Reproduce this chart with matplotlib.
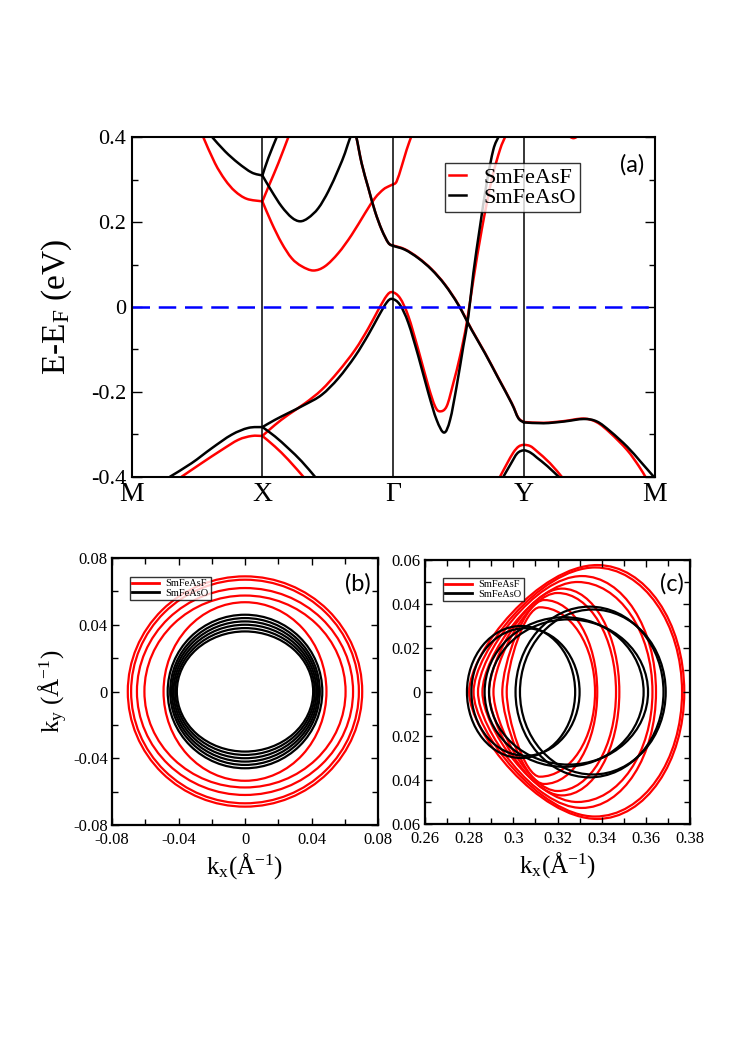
import numpy as np
import matplotlib
matplotlib.use("Agg")
import matplotlib.pyplot as plt
from matplotlib.patches import Ellipse, PathPatch
from matplotlib.path import Path
from matplotlib.ticker import MultipleLocator
from matplotlib.lines import Line2D

plt.rcParams['font.family'] = ['Liberation Serif', 'DejaVu Serif']
plt.rcParams['mathtext.fontset'] = 'custom'
plt.rcParams['mathtext.rm'] = 'Liberation Serif'
plt.rcParams['mathtext.it'] = 'Liberation Serif:italic'
plt.rcParams['axes.unicode_minus'] = False

# ---------------- panel (a) data: band structure ----------------
kpath_pos = [0, 1, 2, 3, 4]
kpath_labels = ['M', 'X', 'Γ', 'Y', 'M']

# SmFeAsF (red), split at kinks
kF1a = [0.548, 0.637, 0.714, 0.79, 0.88, 1.0]
EF1a = [0.40, 0.339, 0.300, 0.273, 0.255, 0.249]
kF1b = [1.0, 1.058, 1.122, 1.198]
EF1b = [0.249, 0.292, 0.339, 0.40]
kF2a = [1.0, 1.071, 1.147, 1.224, 1.301, 1.39, 1.479, 1.581, 1.683, 1.785, 1.862, 1.925, 1.97, 2.0]
EF2a = [0.249, 0.198, 0.151, 0.115, 0.096, 0.086, 0.096, 0.127, 0.170, 0.221, 0.257, 0.277, 0.285, 0.289]
kF2b = [2.0, 2.027, 2.066, 2.104, 2.137]
EF2b = [0.289, 0.296, 0.332, 0.371, 0.40]
kF3a = [0.382, 0.535, 0.688, 0.816, 0.918, 1.0]
EF3a = [-0.40, -0.368, -0.337, -0.313, -0.304, -0.304]
kF3b = [1.0, 1.096, 1.198, 1.326, 1.454, 1.581, 1.709, 1.811, 1.888, 1.952, 1.994,
        2.053, 2.117, 2.193, 2.27, 2.321, 2.359, 2.41, 2.461, 2.512, 2.563, 2.614, 2.678, 2.754, 2.818, 2.856]
EF3b = [-0.304, -0.278, -0.254, -0.227, -0.195, -0.152, -0.101, -0.05, -0.006, 0.027, 0.035,
        0.021, -0.022, -0.101, -0.187, -0.234, -0.246, -0.234, -0.179, -0.116, -0.038, 0.064, 0.182, 0.300, 0.371, 0.40]
kF4 = [1.0, 1.096, 1.198, 1.313]
EF4 = [-0.304, -0.329, -0.36, -0.40]
kF5a = [1.72, 1.759, 1.811, 1.862, 1.913, 1.964, 2.0]
EF5a = [0.40, 0.339, 0.280, 0.225, 0.182, 0.151, 0.145]
kF5b = [2.0, 2.091, 2.193, 2.295, 2.397, 2.499, 2.601, 2.703, 2.805, 2.907, 2.958, 3.0]
EF5b = [0.145, 0.136, 0.116, 0.089, 0.053, 0.006, -0.053, -0.108, -0.167, -0.226, -0.261, -0.271]
kF5c = [3.0, 3.152, 3.305, 3.458, 3.56, 3.662, 3.79, 3.88, 3.93]
EF5c = [-0.271, -0.273, -0.269, -0.263, -0.272, -0.297, -0.337, -0.375, -0.40]
kF6 = [2.818, 2.87, 2.92, 2.96, 3.0, 3.05, 3.10, 3.20, 3.29]
EF6 = [-0.40, -0.37, -0.343, -0.329, -0.325, -0.328, -0.34, -0.368, -0.40]
kF7 = [3.30, 3.38, 3.46]
EF7 = [0.415, 0.398, 0.415]

# SmFeAsO (black), split at kinks
kO1a = [0.617, 0.714, 0.816, 0.918, 1.0]
EO1a = [0.40, 0.367, 0.339, 0.317, 0.31]
kO1b = [1.0, 1.045, 1.109]
EO1b = [0.31, 0.351, 0.40]
kO2a = [1.0, 1.071, 1.147, 1.224, 1.288, 1.351, 1.428, 1.505, 1.581, 1.632, 1.670, 1.696]
EO2a = [0.31, 0.273, 0.237, 0.211, 0.202, 0.21, 0.233, 0.273, 0.324, 0.363, 0.398, 0.408]
kO2b = [1.696, 1.72, 1.759, 1.811, 1.862, 1.913, 1.964, 2.0]
EO2b = [0.408, 0.398, 0.339, 0.280, 0.225, 0.182, 0.151, 0.144]
kO2c = [2.0, 2.091, 2.193, 2.295, 2.397, 2.499, 2.601, 2.703, 2.805, 2.907, 2.958, 3.0]
EO2c = [0.144, 0.135, 0.115, 0.088, 0.052, 0.005, -0.054, -0.109, -0.168, -0.227, -0.262, -0.272]
kO2d = [3.0, 3.152, 3.305, 3.458, 3.56, 3.662, 3.79, 3.892, 3.994]
EO2d = [-0.272, -0.274, -0.270, -0.264, -0.270, -0.293, -0.329, -0.364, -0.40]
kO3a = [0.293, 0.459, 0.612, 0.765, 0.892, 1.0]
EO3a = [-0.40, -0.368, -0.333, -0.301, -0.285, -0.283]
kO3b = [1.0, 1.096, 1.198, 1.326, 1.454, 1.581, 1.709, 1.811, 1.888, 1.952, 1.994,
        2.053, 2.117, 2.193, 2.27, 2.333, 2.39, 2.436, 2.486, 2.537, 2.576, 2.614, 2.665, 2.716, 2.767, 2.805]
EO3b = [-0.283, -0.266, -0.25, -0.23, -0.207, -0.168, -0.116, -0.065, -0.022, 0.011, 0.019,
        0.005, -0.038, -0.116, -0.203, -0.266, -0.296, -0.266, -0.187, -0.093, -0.022, 0.08, 0.19, 0.292, 0.371, 0.40]
kO4 = [1.0, 1.096, 1.198, 1.301, 1.402]
EO4 = [-0.283, -0.305, -0.333, -0.364, -0.40]
kO5 = [2.844, 2.9, 2.95, 3.0, 3.05, 3.10, 3.18, 3.266]
EO5 = [-0.40, -0.37, -0.345, -0.338, -0.343, -0.355, -0.375, -0.40]

# ---------------- panel (b) data: Fermi surface near Gamma ----------------
b_red_rx = [0.0705, 0.0685, 0.065, 0.0605, 0.049]
b_red_ry = [0.069, 0.067, 0.062, 0.0575, 0.0535]
b_blk_rx = [0.0465, 0.045, 0.044, 0.043, 0.042, 0.041]
b_blk_ry = [0.046, 0.044, 0.042, 0.040, 0.038, 0.036]

# ---------------- panel (c) data: shifted pockets ----------------
c_red_xl = [0.280, 0.282, 0.284, 0.286, 0.289, 0.291, 0.295, 0.297]
c_red_xt = [0.338, 0.337, 0.331, 0.329, 0.322, 0.320, 0.314, 0.312]
c_red_yt = [0.0577, 0.0566, 0.0527, 0.050, 0.047, 0.045, 0.0418, 0.0385]
c_red_xr = [0.3774, 0.3764, 0.3646, 0.363, 0.348, 0.3465, 0.338, 0.337]
c_blk_xl = [0.279, 0.281, 0.287, 0.289, 0.301, 0.303]
c_blk_xr = [0.328, 0.330, 0.359, 0.361, 0.368, 0.369]
c_blk_ry = [0.030, 0.029, 0.034, 0.033, 0.0388, 0.0375]

W, H = 747, 1058
fig = plt.figure(figsize=(W / 100, H / 100), dpi=100)


def ax_px(l, t, r, b):
    return fig.add_axes([l / W, 1 - b / H, (r - l) / W, (b - t) / H])


def smooth_path(xs, ys):
    """Catmull-Rom curve through the read points, handed to matplotlib as Bezier segments."""
    pts = np.column_stack([xs, ys]).astype(float)
    n = len(pts)
    verts = [pts[0]]
    codes = [Path.MOVETO]
    for i in range(n - 1):
        p0 = pts[i - 1] if i > 0 else pts[i]
        p1 = pts[i]
        p2 = pts[i + 1]
        p3 = pts[i + 2] if i + 2 < n else pts[i + 1]
        verts += [p1 + (p2 - p0) / 6.0, p2 - (p3 - p1) / 6.0, p2]
        codes += [Path.CURVE4] * 3
    return Path(verts, codes)


# ---------------- (a) ----------------
axA = ax_px(131.7, 137.3, 654.5, 476.7)
lw_band = 1.8
red_bands = [(kF1a, EF1a), (kF1b, EF1b), (kF2a, EF2a), (kF2b, EF2b), (kF3a, EF3a), (kF3b, EF3b),
             (kF4, EF4), (kF5a, EF5a), (kF5b, EF5b), (kF5c, EF5c), (kF6, EF6), (kF7, EF7)]
blk_bands = [(kO1a, EO1a), (kO1b, EO1b), (kO2a, EO2a), (kO2b, EO2b), (kO2c, EO2c), (kO2d, EO2d),
             (kO3a, EO3a), (kO3b, EO3b), (kO4, EO4), (kO5, EO5)]
for kk, ee in red_bands:
    axA.add_patch(PathPatch(smooth_path(kk, ee), fill=False, edgecolor='#ff0000', lw=lw_band,
                            capstyle='round', joinstyle='round'))
for kk, ee in blk_bands:
    axA.add_patch(PathPatch(smooth_path(kk, ee), fill=False, edgecolor='black', lw=lw_band,
                            capstyle='round', joinstyle='round'))
for kp in kpath_pos[1:-1]:
    axA.axvline(kp, color='black', lw=1.1)
axA.axhline(0, color='#0000ff', lw=1.8, dashes=(7, 3.5))
axA.set_xlim(0, 4)
axA.set_ylim(-0.4, 0.4)
axA.set_xticks(kpath_pos)
axA.set_xticklabels(kpath_labels, fontsize=20)
axA.tick_params(axis='x', length=0, pad=4)
axA.set_yticks([-0.4, -0.2, 0, 0.2, 0.4])
axA.set_yticklabels(['-0.4', '-0.2', '0', '0.2', '0.4'], fontsize=16)
axA.yaxis.set_minor_locator(MultipleLocator(0.1))
axA.tick_params(axis='y', which='both', direction='in', left=True, right=True, pad=4)
axA.tick_params(axis='y', which='major', length=7, width=1.0)
axA.tick_params(axis='y', which='minor', length=4, width=1.0)
for s in axA.spines.values():
    s.set_linewidth(1.5)
axA.set_ylabel('E-E$_\\mathregular{F}$ (eV)', fontsize=24, labelpad=12)
legA = axA.legend([Line2D([], [], color='#ff0000', lw=1.8), Line2D([], [], color='black', lw=1.8)],
                  ['SmFeAsF', 'SmFeAsO'], loc='upper left', bbox_to_anchor=(0.599, 0.924),
                  borderaxespad=0, fontsize=16, frameon=True, fancybox=False, edgecolor='black',
                  handlelength=0.75, handletextpad=0.8, borderpad=0.18, labelspacing=0.0)
legA.get_frame().set_linewidth(1.0)
axA.text(0.958, 0.92, '(a)', transform=axA.transAxes, fontsize=17, family='Lato',
         ha='center', va='center')


def style_small(ax):
    ax.tick_params(which='both', direction='in', top=True, right=True, labelsize=12, width=1.0)
    ax.tick_params(which='major', length=5)
    ax.tick_params(which='minor', length=4)
    for s in ax.spines.values():
        s.set_linewidth(1.6)


# ---------------- (b) ----------------
axB = ax_px(112, 558, 378, 825)
for rx, ry in zip(b_red_rx, b_red_ry):
    axB.add_patch(Ellipse((0, 0), 2 * rx, 2 * ry, fill=False, edgecolor='#ff0000', lw=1.6))
for rx, ry in zip(b_blk_rx, b_blk_ry):
    axB.add_patch(Ellipse((0, 0), 2 * rx, 2 * ry, fill=False, edgecolor='black', lw=1.6))
axB.set_xlim(-0.08, 0.08)
axB.set_ylim(-0.08, 0.08)
b_ticks = [-0.08, -0.04, 0, 0.04, 0.08]
b_ticklabels = ['-0.08', '-0.04', '0', '0.04', '0.08']
axB.set_xticks(b_ticks)
axB.set_xticklabels(b_ticklabels)
axB.set_yticks(b_ticks)
axB.set_yticklabels(b_ticklabels)
axB.xaxis.set_minor_locator(MultipleLocator(0.02))
axB.yaxis.set_minor_locator(MultipleLocator(0.02))
style_small(axB)
axB.tick_params(axis='x', pad=5)
axB.tick_params(axis='y', pad=3)
axB.set_xlabel('k$_\\mathregular{x}$(Å$^{\\mathregular{-1}}$)', fontsize=18, labelpad=2)
axB.set_ylabel('k$_\\mathregular{y}$ (Å$^{\\mathregular{-1}}$)', fontsize=18, labelpad=2)
legB = axB.legend([Line2D([], [], color='#ff0000', lw=2), Line2D([], [], color='black', lw=2)],
                  ['SmFeAsF', 'SmFeAsO'], loc='upper left', bbox_to_anchor=(0.068, 0.929),
                  borderaxespad=0, fontsize=7.5, frameon=True, fancybox=False, edgecolor='black',
                  handlelength=2.6, handletextpad=0.6, borderpad=0.2, labelspacing=0.05)
legB.get_frame().set_linewidth(1.0)
axB.text(0.925, 0.905, '(b)', transform=axB.transAxes, fontsize=17, family='Lato', ha='center', va='center')

# ---------------- (c) ----------------
axC = ax_px(425, 560, 690, 824)


def egg_path(xl, xt, yt, xr, a=0.32, b=0.45, kap=0.5523):
    dl = xt - xl
    dr = xr - xt
    verts = [(xl, 0), (xl, a * yt), (xt - b * dl, yt), (xt, yt),
             (xt + kap * dr, yt), (xr, kap * yt), (xr, 0),
             (xr, -kap * yt), (xt + kap * dr, -yt), (xt, -yt),
             (xt - b * dl, -yt), (xl, -a * yt), (xl, 0), (xl, 0)]
    codes = [Path.MOVETO] + [Path.CURVE4] * 12 + [Path.CLOSEPOLY]
    return Path(verts, codes)


for xl, xt, yt, xr in zip(c_red_xl, c_red_xt, c_red_yt, c_red_xr):
    axC.add_patch(PathPatch(egg_path(xl, xt, yt, xr), fill=False, edgecolor='#ff0000', lw=1.6))
for xl, xr, ry in zip(c_blk_xl, c_blk_xr, c_blk_ry):
    axC.add_patch(Ellipse(((xl + xr) / 2, 0), xr - xl, 2 * ry, fill=False, edgecolor='black', lw=1.6))
axC.set_xlim(0.26, 0.38)
axC.set_ylim(-0.06, 0.06)
c_xticks = [0.26, 0.28, 0.30, 0.32, 0.34, 0.36, 0.38]
c_xticklabels = ['0.26', '0.28', '0.3', '0.32', '0.34', '0.36', '0.38']
c_yticks = [-0.06, -0.04, -0.02, 0, 0.02, 0.04, 0.06]
c_yticklabels = ['0.06', '0.04', '0.02', '0', '0.02', '0.04', '0.06']
axC.set_xticks(c_xticks)
axC.set_xticklabels(c_xticklabels)
axC.set_yticks(c_yticks)
axC.set_yticklabels(c_yticklabels)
axC.xaxis.set_minor_locator(MultipleLocator(0.01))
axC.yaxis.set_minor_locator(MultipleLocator(0.01))
style_small(axC)
axC.tick_params(axis='x', pad=5)
axC.tick_params(axis='y', pad=3)
axC.set_xlabel('k$_\\mathregular{x}$(Å$^{\\mathregular{-1}}$)', fontsize=18, labelpad=2)
legC = axC.legend([Line2D([], [], color='#ff0000', lw=2), Line2D([], [], color='black', lw=2)],
                  ['SmFeAsF', 'SmFeAsO'], loc='upper left', bbox_to_anchor=(0.068, 0.932),
                  borderaxespad=0, fontsize=7.5, frameon=True, fancybox=False, edgecolor='black',
                  handlelength=2.6, handletextpad=0.6, borderpad=0.2, labelspacing=0.05)
legC.get_frame().set_linewidth(1.0)
axC.text(0.93, 0.91, '(c)', transform=axC.transAxes, fontsize=17, family='Lato', ha='center', va='center')

fig.savefig('out.png', dpi=100)
